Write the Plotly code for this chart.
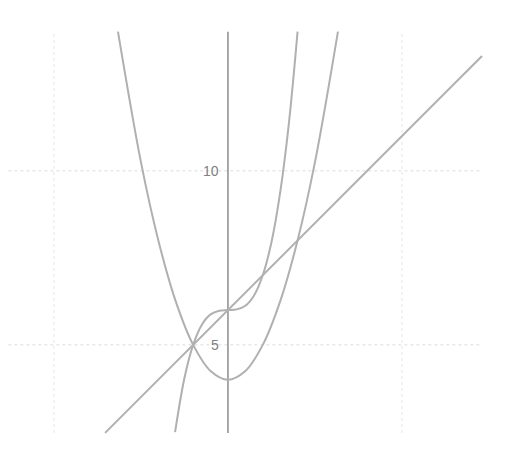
import plotly.graph_objects as go

# Values
parab_x = [-3.16, -2.5, -2, -1.5, -1, -0.5, 0, 0.5, 1, 1.5, 2, 2.5, 3.16]
parab_y = [14, 10.25, 8, 6.25, 5, 4.25, 4, 4.25, 5, 6.25, 8, 10.25, 14]

cubic_x = [-1.52, -1.25, -1, -0.75, -0.5, -0.25, 0, 0.25, 0.5, 0.75, 1, 1.25, 1.5, 1.75, 2.0]
cubic_y = [2.49, 4.05, 5, 5.58, 5.875, 5.98, 6, 6.02, 6.125, 6.42, 7, 7.95, 9.375, 11.36, 14]

line_x = [-3.53, 7.3]
line_y = [2.47, 13.3]

ytick_vals = [5, 10]
ytick_text = ["5", "10"]
xgrid_vals = [-5, 5]

# page body adds an 8px offset; ranges compensate for it
x_range = [-6.32, 8.19]
y_range = [1.72, 14.68]
grid_y_extent = [2.47, 14.0]
grid_x_extent = [-7.0, 7.24]

curve_color = "#b0b0b0"

fig = go.Figure()

for gv in ytick_vals:
    fig.add_shape(type="line", x0=grid_x_extent[0], x1=grid_x_extent[1], y0=gv, y1=gv,
                  line=dict(color="#dcdcdc", width=1, dash="dot"), layer="below")
for gv in xgrid_vals:
    fig.add_shape(type="line", x0=gv, x1=gv, y0=grid_y_extent[0], y1=grid_y_extent[1],
                  line=dict(color="#e4e4e4", width=1, dash="dot"), layer="below")
fig.add_shape(type="line", x0=0, x1=0, y0=grid_y_extent[0], y1=grid_y_extent[1],
              line=dict(color="#8c8c8c", width=1.5), layer="below")

fig.add_trace(go.Scatter(x=line_x, y=line_y, mode="lines",
                         line=dict(color=curve_color, width=2), showlegend=False))
fig.add_trace(go.Scatter(x=parab_x, y=parab_y, mode="lines",
                         line=dict(color=curve_color, width=2, shape="spline", smoothing=1.0),
                         showlegend=False))
fig.add_trace(go.Scatter(x=cubic_x, y=cubic_y, mode="lines",
                         line=dict(color=curve_color, width=2, shape="spline", smoothing=1.0),
                         showlegend=False))

for v, t in zip(ytick_vals, ytick_text):
    fig.add_annotation(x=0, y=v, text=t, showarrow=False, xanchor="right", yanchor="middle",
                       xshift=-7, font=dict(family="Liberation Sans, Arial", size=14, color="#808080"))

fig.update_layout(
    width=505, height=451,
    margin=dict(l=0, r=0, t=0, b=0),
    paper_bgcolor="white", plot_bgcolor="white",
    xaxis=dict(range=x_range, visible=False, fixedrange=True),
    yaxis=dict(range=y_range, visible=False, fixedrange=True),
    showlegend=False,
)

fig.write_html("out.html")
